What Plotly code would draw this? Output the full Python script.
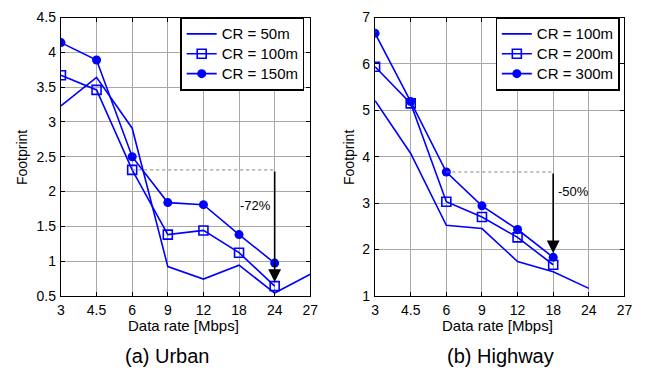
import plotly.graph_objects as go

# Data-rate categories (equally spaced on the x axis)
rates = ["3", "4.5", "6", "9", "12", "18", "24", "27"]

# Urban scenario footprints
urban_cr50 = [3.23, 3.64, 2.91, 0.92, 0.74, 0.94, 0.54, 0.81]
urban_cr100 = [3.67, 3.46, 2.31, 1.38, 1.44, 1.12, 0.64]
urban_cr150 = [4.14, 3.89, 2.50, 1.84, 1.81, 1.38, 0.97]

# Highway scenario footprints
hw_cr100 = [5.21, 4.07, 2.52, 2.45, 1.74, 1.52, 1.16]
hw_cr200 = [5.94, 5.15, 3.03, 2.70, 2.26, 1.67]
hw_cr300 = [6.66, 5.19, 3.67, 2.94, 2.43, 1.83]

urban_labels = ["CR = 50m", "CR = 100m", "CR = 150m"]
hw_labels = ["CR = 100m", "CR = 200m", "CR = 300m"]

BLUE = "#0000ff"
FONT = "Liberation Sans, Arial, sans-serif"
pos = list(range(len(rates)))  # slot index of each data rate

fig = go.Figure()


def add_series(values, name, kind, xa, ya, legend):
    kw = dict(line=dict(color=BLUE, width=1.6))
    if kind == "line":
        kw["mode"] = "lines"
    elif kind == "square":
        kw["mode"] = "lines+markers"
        kw["marker"] = dict(symbol="square-open", size=9, color=BLUE,
                            line=dict(width=1.6, color=BLUE))
    else:
        kw["mode"] = "lines+markers"
        kw["marker"] = dict(symbol="circle", size=9, color=BLUE)
    # larger label text inside a compact legend row
    label = f'<span style="font-size:15px">{name}</span>'
    fig.add_trace(go.Scatter(x=pos[:len(values)], y=values, name=label,
                             xaxis=xa, yaxis=ya, legend=legend, **kw))


add_series(urban_cr50, urban_labels[0], "line", "x", "y", "legend")
add_series(urban_cr100, urban_labels[1], "square", "x", "y", "legend")
add_series(urban_cr150, urban_labels[2], "circle", "x", "y", "legend")
add_series(hw_cr100, hw_labels[0], "line", "x2", "y2", "legend2")
add_series(hw_cr200, hw_labels[1], "square", "x2", "y2", "legend2")
add_series(hw_cr300, hw_labels[2], "circle", "x2", "y2", "legend2")

W, H = 656, 379
y_dom = [1 - 300.5 / H, 1 - 10 / H]

axis_common = dict(
    showline=True, linecolor="black", linewidth=1.3, mirror="allticks",
    ticks="inside", ticklen=4, tickcolor="black", showgrid=True,
    gridcolor="#a8a8a8", gridwidth=1, zeroline=False,
    tickfont=dict(family=FONT, size=14, color="black"),
)
xaxis_common = dict(axis_common, tickmode="array", tickvals=pos,
                    ticktext=rates, range=[0, len(rates) - 1],
                    ticklabelstandoff=1)
yaxis_common = dict(axis_common, ticklabelstandoff=1)

legend_common = dict(
    bgcolor="white", bordercolor="black", borderwidth=1.3,
    font=dict(family=FONT, size=13, color="black"),
    xanchor="right", yanchor="top", tracegroupgap=0,
    itemwidth=30,
)

fig.update_layout(
    width=W, height=H,
    margin=dict(l=0, r=0, t=0, b=0),
    paper_bgcolor="white", plot_bgcolor="white",
    font=dict(family=FONT, color="black"),
    xaxis=dict(xaxis_common, domain=[58 / W, 312 / W], anchor="y"),
    yaxis=dict(yaxis_common, domain=y_dom, range=[0.5, 4.5], dtick=0.5,
               anchor="x"),
    xaxis2=dict(xaxis_common, domain=[378 / W, 632 / W], anchor="y2"),
    yaxis2=dict(yaxis_common, domain=y_dom, range=[1, 7], dtick=1,
                anchor="x2"),
    legend=dict(legend_common, x=306 / W, y=1 - 10 / H),
    legend2=dict(legend_common, x=627 / W, y=1 - 10 / H),
    showlegend=True,
)


# Reference level (dotted) and reduction arrow down to the high-rate value
def reduction(xa, ya, i0, i1, y_from, y_to):
    fig.add_shape(type="line", xref=xa, yref=ya, x0=i0, x1=i1,
                  y0=y_from, y1=y_from,
                  line=dict(color="#808080", width=1, dash="dot"))
    fig.add_annotation(xref=xa, yref=ya, axref=xa, ayref=ya,
                       x=i1, y=y_to, ax=i1, ay=y_from, text="",
                       showarrow=True, arrowhead=2, arrowsize=1.6,
                       arrowwidth=1.6, arrowcolor="black", standoff=4)


i6, i18, i24 = rates.index("6"), rates.index("18"), rates.index("24")

reduction("x", "y", i6, i24, urban_cr100[i6], urban_cr100[i24])
fig.add_annotation(xref="x", yref="y", x=i24, y=1.80, text="-72%",
                   showarrow=False, xanchor="right", xshift=-2,
                   font=dict(family=FONT, size=13, color="black"))

reduction("x2", "y2", i6, i18, hw_cr300[i6], hw_cr300[i18])
fig.add_annotation(xref="x2", yref="y2", x=i18, y=3.26, text="-50%",
                   showarrow=False, xanchor="left", xshift=3,
                   font=dict(family=FONT, size=13, color="black"))


# Axis titles and panel captions
def ptext(x, y, text, size, angle=0):
    fig.add_annotation(xref="paper", yref="paper", x=x / W, y=1 - y / H,
                       text=text, showarrow=False, textangle=angle,
                       xanchor="center", yanchor="middle",
                       font=dict(family=FONT, size=size, color="black"))


ptext(19, 156, "Footprint", 14, -90)
ptext(352, 156, "Footprint", 14, -90)
ptext(183, 332, "Data rate [Mbps]", 15)
ptext(503, 332, "Data rate [Mbps]", 15)
ptext(166, 363, "(a) Urban", 20)
ptext(506, 363, "(b) Highway", 20)

fig.write_html("out.html")
